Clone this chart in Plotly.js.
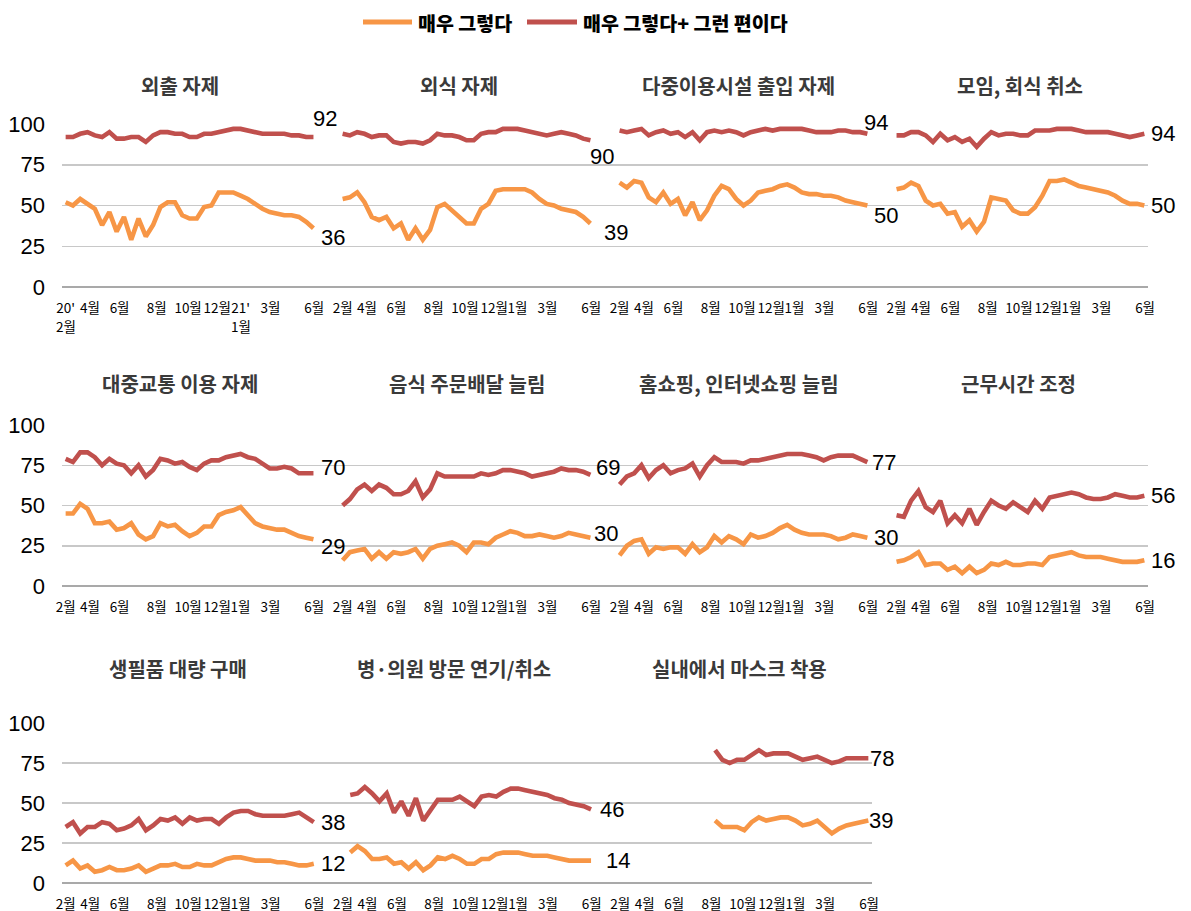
<!DOCTYPE html>
<html><head><meta charset="utf-8">
<script src="https://cdn.plot.ly/plotly-3.0.1.min.js"></script>
<style>html,body{margin:0;padding:0;background:#fff}#chart{width:1191px;height:911px}</style>
</head><body><div id="chart"></div>
<script>
// ---------- DATA ----------
const seriesNames = ['매우 그렇다', '매우 그렇다+ 그런 편이다'];
const panelTitles = ['외출 자제', '외식 자제', '다중이용시설 출입 자제', '모임, 회식 취소',
  '대중교통 이용 자제', '음식 주문배달 늘림', '홈쇼핑, 인터넷쇼핑 늘림', '근무시간 조정',
  '생필품 대량 구매', '병·의원 방문 연기/취소', '실내에서 마스크 착용'];
const monthLabels = ['2월', '4월', '6월', '8월', '10월', '12월', '1월', '3월', '6월'];
const firstPanelLabels = ["20'", '4월', '6월', '8월', '10월', '12월', "21'", '3월', '6월'];
const yearStartLabels = ['2월', '1월'];   // second line under 20' and 21'

const goingOutVery = [52,50,54,51,48,38,46,34,43,29,42,31,38,49,52,52,44,42,42,49,50,58,58,58,56,54,51,48,46,45,44,44,43,40,36];
const goingOutAll  = [92,92,94,95,93,92,95,91,91,92,92,89,93,95,95,94,94,92,92,94,94,95,96,97,97,96,95,94,94,94,94,93,93,92,92];
const eatingOutVery = [54,55,58,52,43,41,43,36,39,29,36,29,35,49,51,47,43,39,39,48,51,59,60,60,60,60,58,54,51,50,48,47,46,43,39];
const eatingOutAll  = [94,93,95,94,92,93,93,89,88,89,89,88,90,94,93,93,92,90,90,94,95,95,97,97,97,96,95,94,93,94,95,94,93,91,90];
const facilitiesVery = [64,61,65,64,55,52,58,51,54,44,52,41,47,56,62,60,54,50,53,58,59,60,62,63,61,58,57,57,56,56,55,53,52,51,50];
const facilitiesAll  = [96,95,96,97,93,95,96,94,95,92,95,90,95,96,95,96,95,93,95,96,97,96,97,97,97,97,96,95,95,95,96,96,95,95,94];
const gatheringVery = [60,61,64,62,53,50,51,45,46,37,41,34,40,55,54,53,47,45,45,49,56,65,65,66,64,62,61,60,59,58,56,53,51,51,50];
const gatheringAll  = [93,93,95,95,93,89,94,90,92,89,91,86,91,95,93,94,94,93,93,96,96,96,97,97,97,96,95,95,95,95,94,93,92,93,94];
const transitVery = [45,45,51,48,39,39,40,35,36,39,32,29,31,39,37,38,34,31,33,37,37,44,46,47,49,44,39,37,36,35,35,33,31,30,29];
const transitAll  = [79,77,83,83,80,75,79,76,75,70,75,68,72,79,78,76,77,74,72,76,78,78,80,81,82,80,79,76,73,73,74,73,70,70,70];
const deliveryVery = [16,21,22,23,17,21,17,21,20,21,23,17,23,25,26,27,25,21,27,27,26,30,32,34,33,31,31,32,31,30,31,33,32,31,30];
const deliveryAll  = [50,54,60,63,59,63,61,57,57,59,65,55,60,70,68,68,68,68,68,70,69,70,72,72,71,70,68,69,70,71,73,72,72,71,69];
const shoppingVery = [19,25,28,29,20,24,23,24,24,20,26,21,24,31,27,31,29,26,32,30,31,33,36,38,35,33,32,32,32,31,29,30,32,31,30];
const shoppingAll  = [63,68,70,75,67,72,75,70,72,73,76,68,75,80,77,77,77,76,78,78,79,80,81,82,82,82,81,80,78,80,81,81,81,79,77];
const workHoursVery = [15,16,18,21,13,14,14,10,12,8,12,8,10,14,13,15,13,13,14,14,13,18,19,20,21,19,18,18,18,17,16,15,15,15,16];
const workHoursAll  = [44,43,53,59,49,46,53,39,44,39,48,38,46,53,50,48,52,49,46,53,48,55,56,57,58,57,55,54,54,55,57,56,55,55,56];
const stockpileVery = [11,14,9,11,7,8,10,8,8,9,11,7,9,11,11,12,10,10,12,11,11,13,15,16,16,15,14,14,14,13,13,12,11,11,12];
const stockpileAll  = [35,38,31,35,35,38,37,33,34,36,40,33,36,40,39,41,37,41,39,40,40,37,41,44,45,45,43,42,42,42,42,43,44,41,38];
const hospitalVery = [null,19,23,20,15,15,16,12,13,9,13,8,11,16,15,17,15,12,12,15,15,18,19,19,19,18,17,17,17,16,15,14,14,14,14];
const hospitalAll  = [null,55,56,60,56,51,56,44,51,42,53,39,45,52,52,52,54,51,48,54,55,54,57,59,59,58,57,56,55,53,52,50,49,48,46];
const maskVery = [null,null,null,null,null,null,null,null,null,null,null,null,null,39,35,35,35,33,38,41,39,40,41,41,39,36,37,39,35,31,34,36,37,38,39];
const maskAll  = [null,null,null,null,null,null,null,null,null,null,null,null,null,83,77,75,77,77,80,83,80,81,81,81,79,77,78,79,77,75,76,78,78,78,78];

const veryList = [goingOutVery, eatingOutVery, facilitiesVery, gatheringVery, transitVery, deliveryVery,
  shoppingVery, workHoursVery, stockpileVery, hospitalVery, maskVery];
const allList = [goingOutAll, eatingOutAll, facilitiesAll, gatheringAll, transitAll, deliveryAll,
  shoppingAll, workHoursAll, stockpileAll, hospitalAll, maskAll];

// ---------- LAYOUT CONSTANTS ----------
const W = 1191, H = 911;
const COLORS = ['#F79646', '#C0504D'];
const BLOCK = 38;              // categories per panel (35 points + gap)
const tickIdx = [0, 3.35, 7.4, 12.5, 16.8, 20.8, 24, 28.1, 34.1];
const yearTickIdx = [0, 24];
const rowsPx = [[124, 287], [425, 586], [723, 883]];   // y pixel of 100 and 0
const rowX = [[62, 1148, 149], [62, 1148, 149], [62, 872, 111]];
const titlePx = [[179.5,85],[459,85],[738.5,85],[1019.5,85],[180,383],[466.5,383],[739,383],[1018.5,383],[178,668],[454,668],[739,668]];
// [dx,dy] of end labels (px; dy down positive) for very / all
const labelOff = [
  [[19.5,9],[11.5,-19]], [[26,9],[12,16]], [[19,10],[9,-11]], [[19,0],[19,0]],
  [[19.5,7],[19.5,-6]], [[16,-4],[18,-7]], [[19,0],[17,0]], [[19,0],[19,0]],
  [[19.5,0],[19.5,0]], [[27,0],[21,0]], [[13,0],[14,0]]
];

const FONT = 'Noto Sans CJK KR, Noto Sans, sans-serif';
const NUMFONT = 'Liberation Sans, Arial, sans-serif';
const TICKSIZE = 13.5;

const traces = [];
const annotations = [];
const layout = {
  width: W, height: H, autosize: false,
  margin: {l: 0, r: 0, t: 0, b: 0},
  paper_bgcolor: '#fff', plot_bgcolor: 'rgba(0,0,0,0)',
  showlegend: false,
  font: {family: FONT, color: '#000'},
  shapes: [],
  annotations: annotations
};

for (let r = 0; r < 3; r++) {
  const sfx = r === 0 ? '' : String(r + 1);
  const [x0, x1, nCat] = rowX[r];
  const nBlocks = r === 2 ? 3 : 4;
  const tv = [], tt = [];
  for (let b = 0; b < nBlocks; b++) {
    const labels = (r === 0 && b === 0) ? firstPanelLabels : monthLabels;
    tickIdx.forEach((t, k) => { tv.push(t + b * BLOCK); tt.push(labels[k]); });
  }
  layout['xaxis' + sfx] = {
    domain: [x0 / W, x1 / W], range: [-0.5, nCat - 0.5], anchor: 'y' + sfx,
    showgrid: false, zeroline: false, showline: false, ticks: '',
    tickmode: 'array', tickvals: tv, ticktext: tt, tickangle: 0,
    tickfont: {family: FONT, size: TICKSIZE, color: '#000'}, ticklabelstandoff: 11,
    fixedrange: true
  };
  layout['yaxis' + sfx] = {
    domain: [1 - rowsPx[r][1] / H, 1 - rowsPx[r][0] / H], range: [0, 100], anchor: 'x' + sfx,
    tickmode: 'array', tickvals: [0, 25, 50, 75, 100], ticks: '',
    showgrid: true, gridcolor: '#C8C8C8', gridwidth: 1.5,
    zeroline: true, zerolinecolor: '#A9A9A9', zerolinewidth: 2, showline: false,
    tickfont: {family: NUMFONT, size: 22, color: '#000'}, ticklabelstandoff: 16,
    fixedrange: true
  };
}

// second line of the year ticks in the first panel
yearStartLabels.forEach((lab, k) => {
  annotations.push({xref: 'x', yref: 'paper', x: yearTickIdx[k], y: 1 - 326 / H,
    text: lab, showarrow: false, xanchor: 'center', yanchor: 'middle',
    font: {family: FONT, size: TICKSIZE, color: '#000'}});
});

panelTitles.forEach((title, p) => {
  const r = Math.floor(p / 4), c = p % 4;
  const sfx = r === 0 ? '' : String(r + 1);
  const series = [veryList[p], allList[p]];
  series.forEach((vals, s) => {
    traces.push({
      type: 'scatter', mode: 'lines', name: seriesNames[s],
      x: vals.map((v, i) => i + c * BLOCK), y: vals,
      xaxis: 'x' + sfx, yaxis: 'y' + sfx,
      line: {color: COLORS[s], width: 4.6}, connectgaps: false,
      hoverinfo: 'skip', cliponaxis: false
    });
    const last = vals.length - 1;
    const [dx, dy] = labelOff[p][s];
    annotations.push({
      xref: 'x' + sfx, yref: 'y' + sfx, x: last + c * BLOCK, y: vals[last],
      text: String(Math.round(vals[last])), showarrow: false,
      xanchor: 'center', yanchor: 'middle', xshift: dx, yshift: -dy,
      font: {family: NUMFONT, size: 22, color: '#000'}
    });
  });
  annotations.push({
    xref: 'paper', yref: 'paper', x: titlePx[p][0] / W, y: 1 - titlePx[p][1] / H,
    text: title, showarrow: false, xanchor: 'center', yanchor: 'middle',
    font: {family: FONT, size: 20, color: '#3A3A3A', weight: 700}
  });
});

// custom legend
const legPx = [[363, 412, 416], [527, 577, 581]];
seriesNames.forEach((nm, s) => {
  layout.shapes.push({type: 'line', xref: 'paper', yref: 'paper',
    x0: legPx[s][0] / W, x1: legPx[s][1] / W, y0: 1 - 22 / H, y1: 1 - 22 / H,
    line: {color: COLORS[s], width: 5}});
  annotations.push({xref: 'paper', yref: 'paper', x: legPx[s][2] / W, y: 1 - 22 / H,
    text: nm, showarrow: false, xanchor: 'left', yanchor: 'middle',
    font: {family: FONT, size: 19.5, color: '#000', weight: 900}});
});

Plotly.newPlot('chart', traces, layout, {staticPlot: true, displayModeBar: false});
</script></body></html>
